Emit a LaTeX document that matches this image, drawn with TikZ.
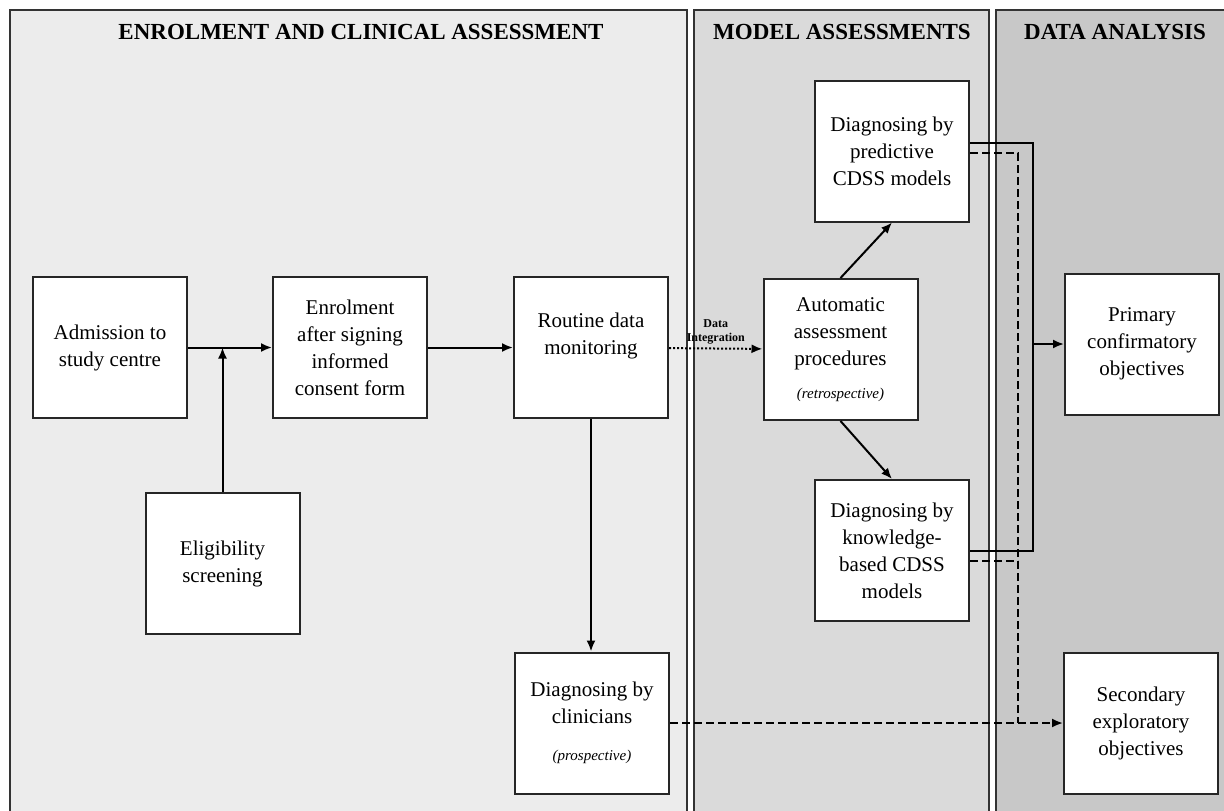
\documentclass[tikz,border=0pt]{standalone}
\usepackage{fontspec}
\setmainfont{Liberation Serif}
\usetikzlibrary{arrows.meta, positioning, calc}
\definecolor{panelone}{HTML}{ECECEC}
\definecolor{paneltwo}{HTML}{DADADA}
\definecolor{panelthree}{HTML}{C8C8C8}
\newcommand{\stagenote}[1]{{\fontsize{7.5}{9}\selectfont\itshape #1}}

\begin{document}
\begin{tikzpicture}[
    x=0.5pt, y=-0.5pt,
    panel/.style={draw=black!80, line width=0.8pt},
    stagebox/.style={rectangle, draw=black!85, line width=1pt, fill=white,
        minimum width=77pt, minimum height=70.5pt, align=center, inner sep=2pt,
        font=\fontsize{10.5}{13.5}\selectfont},
    header/.style={font=\fontsize{11.5}{13}\selectfont\bfseries},
    arrow/.style={-{Latex[length=5.5pt, width=4.5pt]}, line width=1pt},
    dasharrow/.style={arrow, dash pattern=on 4pt off 2pt},
    dashline/.style={line width=1pt, dash pattern=on 4pt off 2pt},
    dotarrow/.style={arrow, dash pattern=on 1pt off 1pt}
]
    \clip (0,0) rectangle (1224,810);

    % Panels
    \draw[panel, fill=panelone]   (10,10)  rectangle (687,830);
    \draw[panel, fill=paneltwo]   (694,10) rectangle (989,830);
    \draw[panel, fill=panelthree] (996,10) rectangle (1240,830);

    \node[header] (enrolhead) at (361,32)  {ENROLMENT AND CLINICAL ASSESSMENT};
    \node[header] (modelhead) at (842,32)  {MODEL ASSESSMENTS};
    \node[header] (datahead)  at (1115,32) {DATA ANALYSIS};

    % Enrolment
    \node[stagebox] (adm)  at (110,347.5)   {Admission to\\study centre};
    \node[stagebox] (elig) at (222.5,563.5) {Eligibility\\screening};
    \node[stagebox] (enr)  at (350,347.5)   {Enrolment\\after signing\\informed\\consent form};
    \node[stagebox] (rout) at (591,347.5)   {Routine data\\monitoring\\~};
    \node[stagebox] (clin) at (592,723)     {Diagnosing by\\clinicians\\[5pt]\stagenote{(prospective)}};

    % Models
    \node[stagebox] (auto) at (840.5,349.5) {Automatic\\assessment\\procedures\\[3pt]\stagenote{(retrospective)}};
    \node[stagebox] (pred) at (892,151)     {Diagnosing by\\predictive\\CDSS models};
    \node[stagebox] (knw)  at (892,550.5)   {Diagnosing by\\knowledge-\\based CDSS\\models};

    % Analysis
    \node[stagebox] (prim) at (1142,344) {Primary\\confirmatory\\objectives};
    \node[stagebox] (sec)  at (1141,723) {Secondary\\exploratory\\objectives};

    % Arrows
    \draw[arrow] (adm) -- (enr);
    \draw[arrow] (elig.north) -- (elig.north |- adm.east);
    \draw[arrow] (enr) -- (rout);
    \draw[arrow] (rout.south) -- (rout.south |- clin.north);
    \draw[dotarrow] (rout) -- (auto)
        node[midway, above, inner sep=1.5pt, align=center,
             font=\fontsize{6}{7}\selectfont\bfseries] (dataint) {Data\\Integration};
    \draw[arrow] (auto.north) -- (pred.south);
    \draw[arrow] (auto.south) -- (knw.north);

    % Confirmatory
    \coordinate (solidx) at (1033,0);
    \draw[line width=1pt] ($(pred.east)+(0,-8)$) -| (solidx |- knw.east) -- (knw.east);
    \draw[arrow] (solidx |- prim.west) -- (prim.west);

    % Exploratory
    \coordinate (dashx) at (1018,0);
    \coordinate (preddash) at ($(pred.east)+(0,2)$);
    \coordinate (knwdash)  at ($(knw.east)+(0,10)$);
    \draw[dashline] (preddash) -| (dashx |- clin.east);
    \draw[dashline] (knwdash) -- (knwdash -| dashx);
    \draw[dasharrow] (clin.east) -- (sec.west);

\end{tikzpicture}
\end{document}
